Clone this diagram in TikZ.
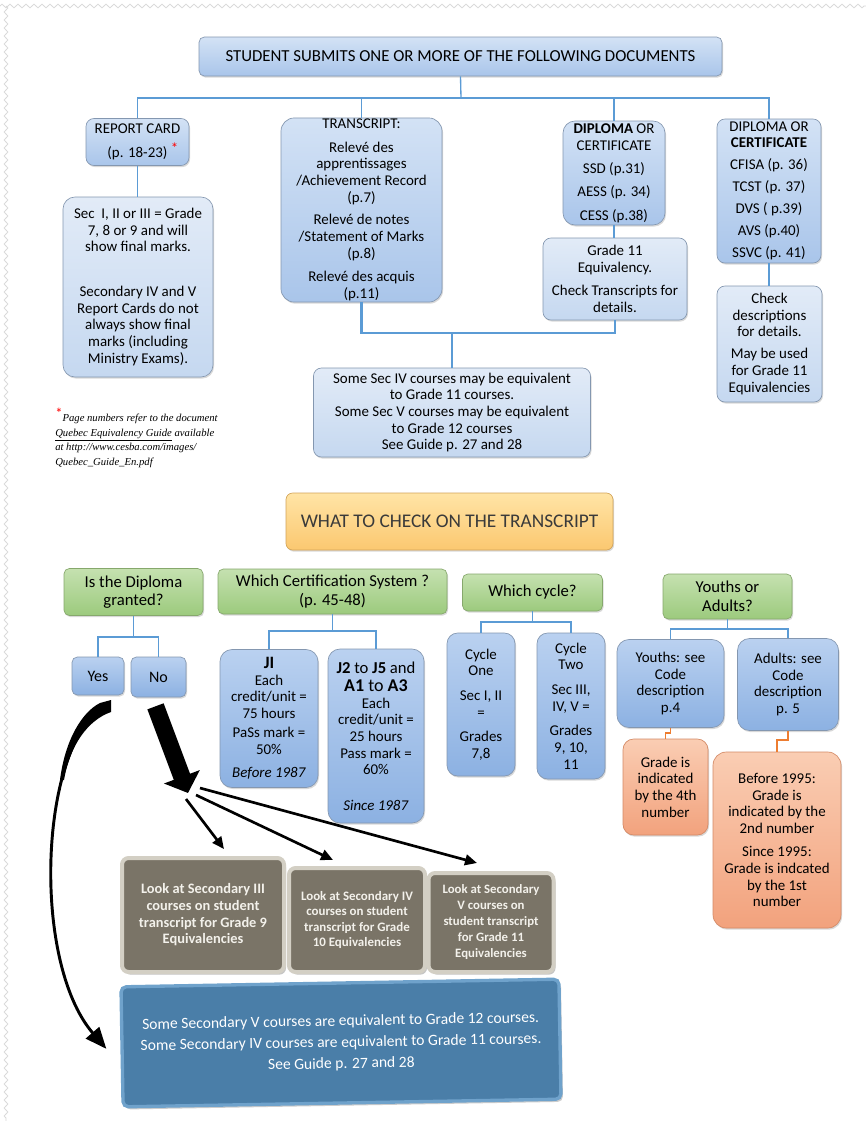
\documentclass[tikz,border=0pt]{standalone}
\usepackage{fontspec}
\setmainfont{Carlito}
\newfontfamily\fnserif{Liberation Serif}
\usetikzlibrary{shadows,arrows.meta,decorations.pathmorphing,calc}
\definecolor{lineblue}{HTML}{5B9BD5}
\definecolor{bordc}{HTML}{8497B0}
\definecolor{bT}{HTML}{D3E2F5}
\definecolor{bB}{HTML}{A9C5EA}
\definecolor{lT}{HTML}{E2EBF7}
\definecolor{lB}{HTML}{C5D8F0}
\definecolor{mT}{HTML}{BAD1F0}
\definecolor{mB}{HTML}{8CB1E2}
\definecolor{gT}{HTML}{C5E1B0}
\definecolor{gB}{HTML}{9CCA7D}
\definecolor{gD}{HTML}{86A86C}
\definecolor{oT}{HTML}{FFE4A6}
\definecolor{oB}{HTML}{FBC870}
\definecolor{oD}{HTML}{D2A459}
\definecolor{sT}{HTML}{FACDB3}
\definecolor{sB}{HTML}{F2A27D}
\definecolor{sD}{HTML}{D48A66}
\definecolor{orline}{HTML}{ED7D31}
\definecolor{grF}{HTML}{7A7467}
\definecolor{grR}{HTML}{D3CFC4}
\definecolor{grT}{HTML}{F3F1EB}
\definecolor{bbF}{HTML}{4A7EA8}
\definecolor{bbR}{HTML}{6FA2CB}
\definecolor{wtcText}{HTML}{3A3A3A}
\newcommand\bxfont{\fontsize{11.2}{12.5}\selectfont}
\tikzset{
  sz/.style 2 args={minimum width={#1*0.75pt}, minimum height={#2*0.75pt}},
  boxbase/.style={rounded corners=6pt, align=center, inner xsep=2pt, inner ysep=1pt,
    draw=bordc, line width=0.5pt, font=\bxfont,
    drop shadow={opacity=0.3, shadow xshift=0.8pt, shadow yshift=-1.2pt}},
  topbox/.style={boxbase, top color=bT, bottom color=bB},
  lightbox/.style={boxbase, top color=lT, bottom color=lB},
  midbox/.style={boxbase, top color=mT, bottom color=mB},
  greenbox/.style={boxbase, top color=gT, bottom color=gB, draw=gD,
    font=\fontsize{12.5}{14}\selectfont, rounded corners=4pt},
  salmonbox/.style={boxbase, top color=sT, bottom color=sB, draw=sD},
  graybox/.style={rounded corners=5pt, fill=grF, draw=grR, line width=3pt, text=grT,
    align=center, inner sep=1pt,
    drop shadow={opacity=0.45, shadow xshift=1.5pt, shadow yshift=-2pt}},
  conn/.style={draw=lineblue, line width=1pt},
  thickconn/.style={draw=lineblue, line width=2pt},
  oconn/.style={draw=orline, line width=1pt},
  thinarrow/.style={draw=black, line width=2pt, -{Triangle[length=9pt,width=8pt]}},
}
\begin{document}
\begin{tikzpicture}[x=0.75pt,y=-0.75pt]
\fill[white] (0,0) rectangle (866,1121);
\useasboundingbox (0,0) rectangle (866,1121);
\draw[black!15, line width=0.6pt, decorate, decoration={zigzag, segment length=6pt, amplitude=1.4pt}] (0,6) -- (866,6);
\draw[black!15, line width=0.6pt, decorate, decoration={zigzag, segment length=6pt, amplitude=1.4pt}] (6,6) -- (6,1121);

% ---------- top part ----------
\node[topbox, sz={523}{39}, font=\fontsize{12.6}{14}\selectfont, rounded corners=4pt] (top) at (460.5,56.5)
  {STUDENT SUBMITS ONE OR MORE OF THE FOLLOWING DOCUMENTS};
\node[topbox, sz={103}{47}] (rc) at (137.5,142)
  {REPORT CARD\\[5pt]\hspace*{8pt}(p. 18-23)~\textcolor{red}{\raisebox{3pt}{*}}};
\node[lightbox, sz={150}{180}, rounded corners=9pt] (sec) at (138,287)
  {Sec\ \ I, II or III = Grade\\7, 8 or 9 and will\\show final marks.\\[21pt]Secondary IV and V\\Report Cards do not\\always show final\\marks (including\\Ministry Exams).};
\node[topbox, sz={161}{180}, rounded corners=10pt] (tr) at (361.5,210)
  {TRANSCRIPT:\\[5pt]Relevé des\\apprentissages\\/Achievement Record\\(p.7)\\[4.5pt]Relevé de notes\\/Statement of Marks\\(p.8)\\[5pt]Relevé des acquis\\(p.11)};
\node[topbox, sz={102}{104}, rounded corners=9pt] (dp1) at (614,173)
  {\textbf{DIPLOMA} OR\\CERTIFICATE\\[5pt]SSD (p.31)\\[5pt]AESS (p. 34)\\[5pt]CESS (p.38)};
\node[lightbox, sz={144}{82}] (g11) at (615,279)
  {Grade 11\\Equivalency.\\[5pt]Check Transcripts for\\details.};
\node[topbox, sz={104}{144}] (dp2) at (769,191)
  {DIPLOMA OR\\\textbf{CERTIFICATE}\\[4pt]CFISA (p. 36)\\[4pt]TCST (p. 37)\\[4pt]DVS ( p.39)\\[4pt]AVS (p.40)\\[4pt]SSVC (p. 41)};
\node[lightbox, sz={105}{116}] (chk) at (769.5,344)
  {Check\\descriptions\\for details.\\[4pt]May be used\\for Grade 11\\Equivalencies};
\node[lightbox, sz={277}{89}] (ss) at (452,412.5)
  {Some Sec IV courses may be equivalent\\to Grade 11 courses.\\Some Sec V courses may be equivalent\\to Grade 12 courses\\See Guide p. 27 and 28};
\node[anchor=north west, align=left, inner sep=0pt, font=\fnserif\itshape\fontsize{8}{11}\selectfont] (fn) at (55,408)
  {\textcolor{red}{\raisebox{2pt}{\normalfont\fontsize{11}{11}\selectfont*}}Page numbers refer to the document\\\underline{Quebec Equivalency Guide} available\\at http://www.cesba.com/images/\\Quebec\_Guide\_En.pdf};

\coordinate (bus) at (461,98);
\draw[conn] (top.south) -- (bus);
\draw[conn] (rc.north) |- (bus) -| (dp2.north);
\draw[conn] (tr.north) -- (tr.north |- bus);
\draw[conn] (dp1.north) -- (dp1.north |- bus);
\draw[conn] (rc.south) -- (rc.south |- sec.north);
\draw[conn] (dp1.south) -- (dp1.south |- g11.north);
\draw[conn] (dp2.south) -- (dp2.south |- chk.north);
\coordinate (tb) at (452,333);
\draw[thickconn] (tr.south) |- (tb) -- (ss.north);
\draw[thickconn] (g11.south) |- (tb);

% ---------- lower part ----------
\node[boxbase, top color=oT, bottom color=oB, draw=oD, sz={327}{57}, text=wtcText,
  font=\fontsize{14.5}{16}\selectfont, rounded corners=5pt] (wtc) at (449.5,521.5)
  {WHAT TO CHECK ON THE TRANSCRIPT};

\node[greenbox, sz={139}{47}] (isd) at (133.5,592) {Is the Diploma\\granted?};
\node[greenbox, sz={229}{45}] (cert) at (332.5,591.5) {Which Certification System ?\\(p. 45-48)};
\node[greenbox, sz={140}{37}] (cyc) at (532.5,592.5) {Which cycle?};
\node[greenbox, sz={129}{45}] (ya) at (727.5,596.5) {Youths or\\Adults?};

\node[midbox, sz={52}{38}, font=\fontsize{12}{14}\selectfont, rounded corners=4pt] (yes) at (98,676) {Yes};
\node[midbox, sz={55}{40}, font=\fontsize{12}{14}\selectfont, rounded corners=4pt] (no) at (158.5,677) {No};

\node[midbox, sz={98}{138}, rounded corners=9pt] (ji) at (269,718.5)
  {{\fontsize{13}{14}\selectfont\bfseries JI}\\Each\\credit/unit =\\75 hours\\[2pt]PaSs mark =\\50\%\\[5pt]\textit{Before 1987}};
\node[midbox, sz={96}{174}, rounded corners=9pt] (j2) at (376,736)
  {{\fontsize{12.5}{13}\selectfont\textbf{J2} to \textbf{J5} and}\\[1pt]{\fontsize{13.5}{14}\selectfont\textbf{A1} to \textbf{A3}}\\Each\\credit/unit =\\25 hours\\Pass mark =\\60\%\\[14pt]\textit{Since 1987}};
\node[midbox, sz={68}{143}, rounded corners=8pt] (c1) at (481,704.5)
  {Cycle\\One\\[6pt]Sec I, II\\=\\[6pt]Grades\\7,8};
\node[midbox, sz={68}{146}, rounded corners=8pt] (c2) at (571,706)
  {Cycle\\Two\\[6pt]Sec III,\\IV, V =\\[6pt]Grades\\9, 10,\\11};
\node[midbox, sz={107}{88}, rounded corners=9pt] (youth) at (670.5,683.5)
  {Youths: see\\Code\\description\\p.4};
\node[midbox, sz={101}{92}, rounded corners=9pt] (adult) at (788,684.5)
  {Adults: see\\Code\\description\\p. 5};
\node[salmonbox, sz={85}{96}, rounded corners=8pt] (or1) at (665.5,787)
  {Grade is\\indicated\\by the 4th\\number};
\node[salmonbox, sz={128}{176}, rounded corners=10pt] (or2) at (777,840)
  {Before 1995:\\Grade is\\indicated by the\\2nd number\\[5pt]Since 1995:\\Grade is indcated\\by the 1st\\number};

\coordinate (b1) at (133.5,637);
\draw[conn] (isd.south) -- (b1);
\draw[conn] (yes.north) |- (b1) -| (no.north);
\coordinate (b2) at (332.5,631);
\draw[conn] (cert.south) -- (b2);
\draw[conn] (ji.north) |- (b2) -| (j2.north);
\coordinate (b3) at (532.5,622);
\draw[conn] (cyc.south) -- (b3);
\draw[conn] (c1.north) |- (b3) -| (c2.north);
\coordinate (b4) at (727.5,629);
\draw[conn] (ya.south) -- (b4);
\draw[conn] (youth.north) |- (b4) -| (adult.north);
\draw[oconn] (youth.south) -- ++(0,5) -| (or1.north);
\draw[oconn] (adult.south) -- ++(0,9) -| (or2.north);

% ---------- bottom boxes ----------
\node[graybox, sz={162}{114}, font=\fontsize{10.8}{12.5}\selectfont\bfseries] (g1) at (203,915)
  {Look at Secondary III\\courses on student\\transcript for Grade 9\\Equivalencies};
\node[graybox, sz={136}{104}, font=\fontsize{9.7}{11.5}\selectfont\bfseries] (g2) at (357,920)
  {Look at Secondary IV\\courses on student\\transcript for Grade\\10 Equivalencies};
\node[graybox, sz={125}{99}, font=\fontsize{9.6}{12}\selectfont\bfseries] (g3) at (491,922.5)
  {Look at Secondary\\V courses on\\student transcript\\for Grade 11\\Equivalencies};
\node[rounded corners=4pt, fill=bbF, draw=bbR, line width=2.5pt, text=white, align=center,
  sz={438}{120}, rotate=1, font=\fontsize{11.7}{16}\selectfont,
  drop shadow={opacity=0.4, shadow xshift=1.5pt, shadow yshift=-2pt}] (bb) at (341,1043)
  {Some Secondary V courses are equivalent to Grade 12 courses.\\Some Secondary IV courses are equivalent to Grade 11 courses.\\See Guide p. 27 and 28};

% ---------- arrows ----------
\fill (100,703) -- (111,700) -- (111,712) .. controls (88,720) and (70,745) .. (64,780)
  -- (60,780) .. controls (65,740) and (82,712) .. cycle;
\draw[line width=2.2pt, -{Triangle[length=16pt,width=13pt]}]
  ([shift={(8,10)}]yes.south) .. controls (40,740) and (30,960) .. ([shift={(-14,2)}]bb.west);
\coordinate (hub) at (188,793);
\draw[line width=13pt, -{Triangle[length=13pt,width=28pt]}] ([shift={(-3,9)}]no.south) -- (hub);
\draw[thinarrow] ([shift={(-2,6)}]hub) -- ([shift={(21,-7)}]g1.north);
\draw[thinarrow] ([shift={(8,2)}]hub) -- ([shift={(-24,-6)}]g2.north);
\draw[thinarrow] ([shift={(12,-5)}]hub) -- ([shift={(-14,-8)}]g3.north);
\end{tikzpicture}
\end{document}
